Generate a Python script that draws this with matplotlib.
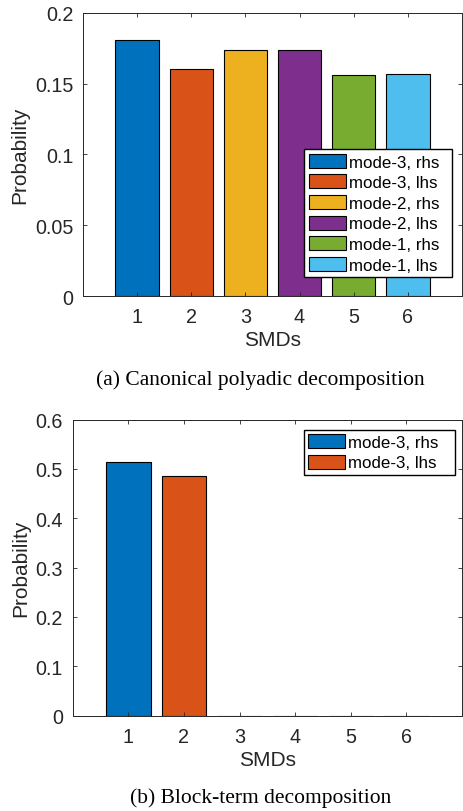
import matplotlib
matplotlib.use("Agg")
import matplotlib.pyplot as plt
from matplotlib.ticker import FuncFormatter

smds = [1, 2, 3, 4, 5, 6]
labels_a = ["mode-3, rhs", "mode-3, lhs", "mode-2, rhs", "mode-2, lhs", "mode-1, rhs", "mode-1, lhs"]
prob_a = [0.181, 0.160, 0.1735, 0.174, 0.156, 0.157]
labels_b = ["mode-3, rhs", "mode-3, lhs"]
prob_b = [0.514, 0.486, 0, 0, 0, 0]
colors = ["#0072BD", "#D95319", "#EDB120", "#7E2F8E", "#77AC30", "#4DBEEE"]

plt.rcParams["font.family"] = ["Liberation Sans", "DejaVu Sans"]
dark = "#262626"

fig = plt.figure(figsize=(4.63, 8.12), dpi=100)
ax1 = fig.add_axes([0.179, 0.634, 0.819, 0.349])
ax2 = fig.add_axes([0.157, 0.1174, 0.841, 0.3646])


def style(ax, ymax, step):
    ax.set_xlim(0, 7)
    ax.set_ylim(0, ymax)
    ax.set_xticks(smds)
    ax.set_yticks([round(i * step, 3) for i in range(int(round(ymax / step)) + 1)])
    ax.yaxis.set_major_formatter(FuncFormatter(lambda v, p: "%g" % v))
    ax.tick_params(direction="in", top=True, right=True, length=3, width=0.6,
                   labelsize=14.2, colors=dark)
    ax.tick_params(axis="x", pad=8)
    ax.tick_params(axis="y", pad=7)
    for s in ax.spines.values():
        s.set_color(dark)
        s.set_linewidth(0.7)
    ax.set_xlabel("SMDs", fontsize=15, color=dark, labelpad=3)
    ax.set_ylabel("Probability", fontsize=15, color=dark, labelpad=4)


leg_kw = dict(borderaxespad=0, fontsize=12.2, frameon=True, fancybox=False, framealpha=1,
              edgecolor="black", handlelength=2.2, handleheight=0.9, mode="expand",
              handletextpad=0.2, labelspacing=0.28, borderpad=0.25)

# (a) one series per SMD so that each bar gets a legend entry
for x, v, c, lab in zip(smds, prob_a, colors, labels_a):
    ax1.bar(x, v, width=0.8, color=c, edgecolor="black", linewidth=0.8, label=lab)
style(ax1, 0.2, 0.05)
ax1.legend(loc="lower left", bbox_to_anchor=(0.584, 0.068, 0.389, 0), **leg_kw)

# (b)
bars = ax2.bar(smds, prob_b, width=0.8, color=colors[:2] + ["white"] * 4,
               edgecolor="black", linewidth=0.8)
bars[0].set_label(labels_b[0])
bars[1].set_label(labels_b[1])
style(ax2, 0.6, 0.1)
ax2.legend(handles=[bars[0], bars[1]], loc="upper left",
           bbox_to_anchor=(0.593, 0.966, 0.388, 0), **leg_kw)

fig.text(0.5627, 1 - 380 / 812, "(a) Canonical polyadic decomposition",
         family="Liberation Serif", fontsize=15.5, ha="center", va="center")
fig.text(0.5627, 1 - 798 / 812, "(b) Block-term decomposition",
         family="Liberation Serif", fontsize=15.5, ha="center", va="center")

fig.savefig("out.png", dpi=100)
